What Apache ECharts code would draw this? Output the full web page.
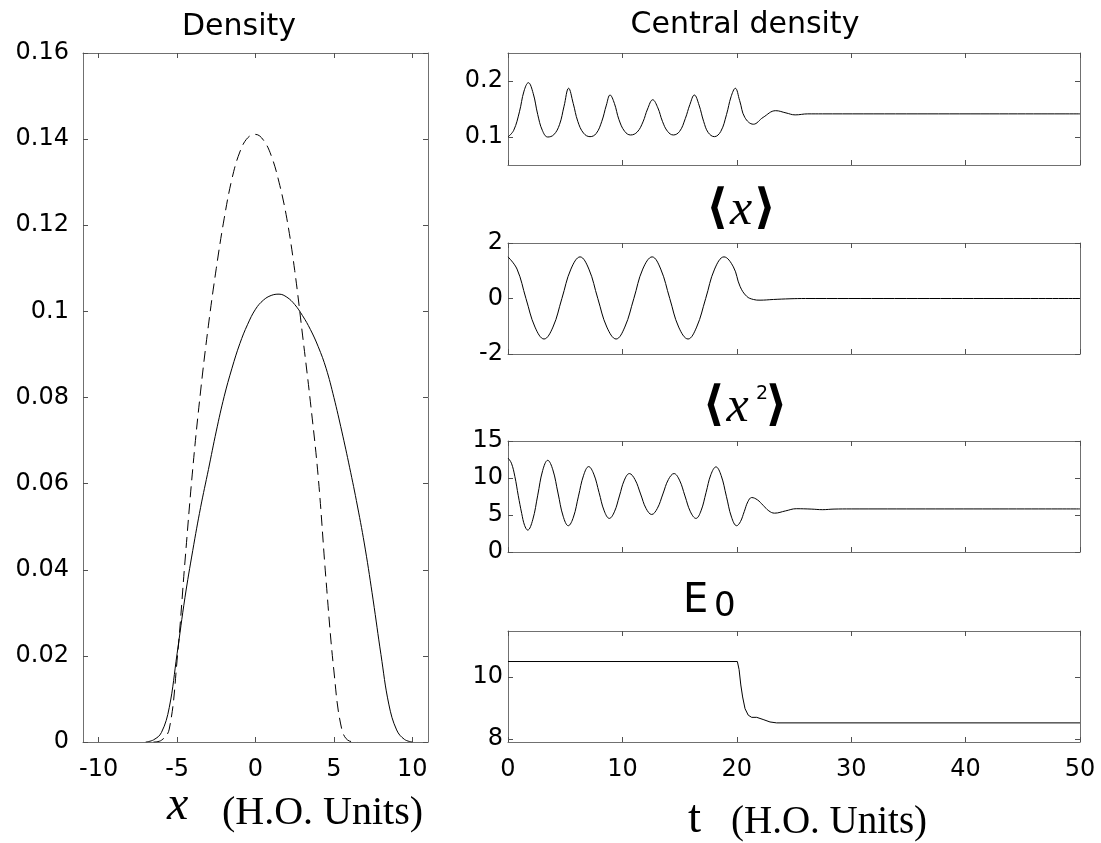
<!DOCTYPE html>
<html><head><meta charset="utf-8">
<script src="https://cdn.jsdelivr.net/npm/echarts@6/dist/echarts.min.js"></script>
<style>html,body{margin:0;padding:0;background:#fff}#c{width:1101px;height:843px}</style>
</head><body><div id="c"></div>
<script>
// ---- Left panel: density profiles ----
const dashedX = [-6.5,-6.0,-5.5,-5.0,-4.5,-4.0,-3.5,-3.0,-2.5,-2.0,-1.5,-1.0,-0.5,0.0,0.5,1.0,1.5,2.0,2.5,3.0,3.5,4.0,4.5,5.0,5.5,6.0,6.5];
const dashedY = [0,0.0004,0.0030,0.0190,0.0418,0.0635,0.0815,0.0968,0.1100,0.1215,0.1308,0.1370,0.1403,0.1411,0.1398,0.1362,0.1300,0.1215,0.1095,0.0945,0.0790,0.0615,0.0375,0.0165,0.0030,0.0002,0];
const solidX = [-7.0,-6.5,-6.0,-5.5,-5.0,-4.5,-4.0,-3.5,-3.0,-2.5,-2.0,-1.5,-1.0,-0.5,0.0,0.5,1.0,1.5,2.0,2.5,3.0,3.5,4.0,4.5,5.0,5.5,6.0,6.5,7.0,7.5,8.0,8.5,9.0,9.5,10.0];
const solidY = [0,0.0005,0.0022,0.0080,0.0205,0.0335,0.0445,0.0545,0.0633,0.0722,0.0802,0.0868,0.0925,0.0970,0.1005,0.1026,0.1037,0.1040,0.1033,0.1016,0.0990,0.0958,0.0918,0.0868,0.0800,0.0722,0.0638,0.0548,0.0448,0.0330,0.0203,0.0088,0.0028,0.0006,0];
const densityXTicks = [-10,-5,0,5,10];
const densityYTicks = [0,0.02,0.04,0.06,0.08,0.1,0.12,0.14,0.16];

// ---- Right panels: time series ----
const centralT = [0,0.5,1.0,1.4,1.78,2.2,2.6,3.0,3.47,4.0,4.5,4.9,5.3,5.7,6.1,6.6,7.17,7.7,8.2,8.6,8.92,9.3,9.7,10.2,10.72,11.3,11.8,12.2,12.65,13.1,13.5,13.95,14.45,15.0,15.5,15.9,16.29,16.7,17.1,17.5,18.04,18.6,19.1,19.5,19.87,20.25,20.7,21.45,22.3,23.4,24.3,25.1,26.2,27.5,50];
const centralV = [0.100,0.112,0.145,0.182,0.197,0.178,0.140,0.112,0.100,0.104,0.122,0.155,0.187,0.160,0.128,0.107,0.1006,0.106,0.128,0.157,0.175,0.160,0.131,0.110,0.1036,0.109,0.127,0.150,0.1665,0.152,0.128,0.110,0.1036,0.110,0.133,0.158,0.175,0.157,0.128,0.108,0.1006,0.110,0.140,0.172,0.187,0.165,0.135,0.1228,0.135,0.147,0.143,0.1395,0.1413,0.1413,0.1413];

const meanXT = [0,0.79,1.57,2.36,3.15,3.93,4.71,5.5,6.3,7.07,7.85,8.64,9.45,10.21,11.0,11.78,12.6,13.35,14.14,14.92,15.74,16.49,17.28,18.06,18.88,19.7,20.28,20.86,21.45,22.03,23.2,24.65,26,50];
const meanXV = [1.5,1.06,0,-1.03,-1.46,-1.03,0,1.06,1.5,1.06,0,-1.03,-1.46,-1.03,0,1.06,1.5,1.06,0,-1.03,-1.46,-1.03,0,1.06,1.5,1.14,0.44,0.08,-0.035,-0.06,-0.035,-0.01,0,0];

const meanX2T = [0,0.3,0.6,0.9,1.2,1.45,1.72,2.16,2.60,3.03,3.47,3.92,4.37,4.82,5.27,5.72,6.16,6.61,7.05,7.50,7.96,8.41,8.86,9.30,9.74,10.17,10.61,11.10,11.59,12.07,12.56,13.05,13.54,14.02,14.51,14.99,15.47,15.95,16.43,16.87,17.31,17.74,18.18,18.63,19.09,19.54,19.99,20.32,20.65,20.97,21.3,21.8,22.3,22.8,23.3,24.25,25.2,26.5,27.5,28.5,30,50];
const meanX2V = [12.7,12.0,10.2,7.6,5.2,3.6,2.96,4.34,7.68,11.01,12.39,11.10,7.97,4.84,3.55,4.72,7.55,10.37,11.54,10.52,8.04,5.56,4.54,5.43,7.57,9.71,10.6,9.79,7.84,5.88,5.07,5.88,7.84,9.79,10.6,9.71,7.57,5.43,4.54,5.56,8.02,10.48,11.5,10.34,7.53,4.71,3.55,4.11,5.46,6.80,7.36,7.05,6.31,5.56,5.25,5.55,5.85,5.80,5.72,5.80,5.82,5.82];

const energyT = [0,20.05,20.2,20.35,20.51,20.72,21.0,21.3,21.74,22.3,22.9,23.48,50];
const energyV = [10.51,10.51,10.25,9.75,9.36,8.98,8.77,8.70,8.70,8.63,8.55,8.52,8.52];

const tTicks = [0,10,20,30,40,50];
const centralTicks = [0.1,0.2];
const meanXTicks = [-2,0,2];
const meanX2Ticks = [0,5,10,15];
const energyTicks = [8,10];

const zip = (a,b) => a.map((v,i)=>[v,b[i]]);
const AXC = '#707070';
const fmt = v => String(+(+v).toFixed(4));

const grids = [], xAxes = [], yAxes = [], series = [];
function addPanel(g, xr, yr, xt, xl, yt, yl, ylMargin, xlMargin){
  const gi = grids.length;
  grids.push(Object.assign({outerBoundsMode:'none', containLabel:false}, g));
  const mk = (pos, min, max, ticks, labels, margin) => ({
    type:'value', gridIndex:gi, position:pos, min, max,
    axisLine:{show:true, onZero:false, lineStyle:{color:AXC, width:1}},
    axisTick:{show:true, inside:true, length:5, customValues:ticks, lineStyle:{color:'#505050', width:1}},
    axisLabel:labels ? {show:true, customValues:labels, margin, fontFamily:'DejaVu Sans', fontSize:24, color:'#000', formatter:fmt, showMinLabel:true, showMaxLabel:true} : {show:false},
    splitLine:{show:false}
  });
  const xi = xAxes.length;
  xAxes.push(mk('bottom', xr[0], xr[1], xt, xl, xlMargin));
  xAxes.push(mk('top', xr[0], xr[1], xt, null, 0));
  const yi = yAxes.length;
  yAxes.push(mk('left', yr[0], yr[1], yt, yl, ylMargin));
  yAxes.push(mk('right', yr[0], yr[1], yt, null, 0));
  return {xi, yi};
}
function line(ax, data, opts){
  series.push(Object.assign({type:'line', xAxisIndex:ax.xi, yAxisIndex:ax.yi, data, symbol:'none', showSymbol:false, smooth:0.4, clip:true, silent:true,
    lineStyle:{color:'#000', width:1}}, opts||{}));
}

const pL = addPanel({left:83, top:53, width:345, height:689}, [-11,11], [0,0.16], densityXTicks, densityXTicks, densityYTicks, densityYTicks, 14, 16);
line(pL, zip(dashedX, dashedY), {lineStyle:{color:'#000', width:1, type:[11,6]}});
line(pL, zip(solidX, solidY));

const RL = 508, RW = 572;
const p1 = addPanel({left:RL, top:53, width:RW, height:112}, [0,50], [0.05,0.25], tTicks, null, centralTicks, centralTicks, 5, 0);
line(p1, zip(centralT, centralV));
const p2 = addPanel({left:RL, top:243, width:RW, height:111}, [0,50], [-2,2], tTicks, null, meanXTicks, meanXTicks, 5, 0);
line(p2, zip(meanXT, meanXV));
const p3 = addPanel({left:RL, top:441, width:RW, height:111}, [0,50], [0,15], tTicks, null, meanX2Ticks, meanX2Ticks, 5, 0);
line(p3, zip(meanX2T, meanX2V));
const p4 = addPanel({left:RL, top:631, width:RW, height:111}, [0,50], [7.9,11.5], tTicks, tTicks, energyTicks, energyTicks, 5, 16);
line(p4, zip(energyT, energyV), {smooth:false});

const txt = (x, y, text, size, family, extra) => ({type:'text', x, y, silent:true,
  style:Object.assign({text, fontSize:size, fontFamily:family, fill:'#000', align:'center', verticalAlign:'middle'}, extra||{})});
const bracketRich = {
  b:{fontFamily:'DejaVu Sans', fontWeight:'bold', fontSize:48, fill:'#000'},
  i:{fontFamily:'Liberation Serif', fontStyle:'italic', fontSize:50, fill:'#000', padding:[0,2,0,2]},
  sp:{fontSize:10, padding:[0,0,0,12]}
};

const graphic = [
  txt(239, 27, 'Density', 30, 'DejaVu Sans'),
  txt(745, 25, 'Central density', 30, 'DejaVu Sans'),
  {type:'text', x:741, y:211, silent:true, style:{text:'{b|⟨}{i|x}{b|⟩}', rich:bracketRich, align:'center', verticalAlign:'middle'}},
  {type:'text', x:745, y:408, silent:true, style:{text:'{b|⟨}{i|x}{sp| }{b|⟩}', rich:bracketRich, align:'center', verticalAlign:'middle'}},
  txt(762, 394, '2', 19, 'DejaVu Sans'),
  txt(683, 602, 'E', 40, 'DejaVu Sans', {align:'left'}),
  txt(714, 607, '0', 34, 'DejaVu Sans', {align:'left'}),
  txt(167, 806, 'x', 48, 'Liberation Serif', {align:'left', fontStyle:'italic'}),
  txt(222, 813, '(H.O. Units)', 40, 'Liberation Serif', {align:'left'}),
  txt(688, 820, 't', 47, 'Liberation Serif', {align:'left'}),
  txt(731, 823, '(H.O. Units)', 39, 'Liberation Serif', {align:'left'})
];

const chart = echarts.init(document.getElementById('c'), null, {renderer:'canvas'});
chart.setOption({animation:false, backgroundColor:'#fff', grid:grids, xAxis:xAxes, yAxis:yAxes, series, graphic});
</script>
</body></html>
